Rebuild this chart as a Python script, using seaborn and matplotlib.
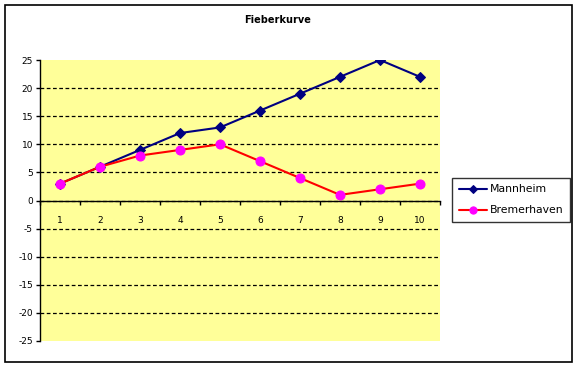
import pandas as pd
import matplotlib
matplotlib.use('Agg')
import matplotlib.pyplot as plt
import seaborn as sns
from matplotlib.patches import Rectangle

tage = [1, 2, 3, 4, 5, 6, 7, 8, 9, 10]
mannheim = [3, 6, 9, 12, 13, 16, 19, 22, 25, 22]
bremerhaven = [3, 6, 8, 9, 10, 7, 4, 1, 2, 3]
y_ticks = [-25, -20, -15, -10, -5, 0, 5, 10, 15, 20, 25]

sns.set_style('white')
plt.rcParams['font.family'] = ['DejaVu Sans']
plt.rcParams['axes.unicode_minus'] = False
plt.rcParams['text.color'] = 'black'

data = pd.DataFrame({'Tag': tage, 'Mannheim': mannheim, 'Bremerhaven': bremerhaven})

fig = plt.figure(figsize=(5.78, 3.66), dpi=100)
fig.patch.set_facecolor('white')
fig.patches.append(Rectangle((5 / 578, 4 / 366), 567 / 578, 357 / 366, transform=fig.transFigure,
                             fill=False, edgecolor='black', linewidth=1.2))

ax = fig.add_axes([40 / 578, 25 / 366, 400 / 578, 281 / 366])
ax.set_facecolor('#FFFF99')

sns.lineplot(data=data, x='Tag', y='Mannheim', ax=ax, color='#000080', linewidth=1.5,
             marker='D', markersize=5.5, markerfacecolor='#000080', markeredgecolor='#000080',
             label='Mannheim')
sns.lineplot(data=data, x='Tag', y='Bremerhaven', ax=ax, color='#FF0000', linewidth=1.5,
             marker='o', markersize=6.5, markerfacecolor='#FF00FF', markeredgecolor='#FF00FF',
             label='Bremerhaven')

ax.set_xlim(0.5, 10.5)
ax.set_ylim(-25, 25)
ax.set_xlabel('')
ax.set_ylabel('')

ax.set_yticks(y_ticks)
ax.tick_params(axis='y', left=True, direction='out', length=3, width=1, color='black',
               labelcolor='black', labelsize=6.5, pad=2)

ax.set_xticks(tage)
ax.set_xticks([t + 0.5 for t in [0] + tage], minor=True)
ax.tick_params(axis='x', which='major', bottom=True, length=0, labelcolor='black',
               labelsize=6.5, pad=11)
ax.tick_params(axis='x', which='minor', bottom=True, direction='out', length=3, width=1,
               color='black')

for s in ['top', 'right']:
    ax.spines[s].set_visible(False)
ax.spines['left'].set_color('black')
ax.spines['left'].set_linewidth(1)
ax.spines['bottom'].set_position(('data', 0))
ax.spines['bottom'].set_color('black')
ax.spines['bottom'].set_linewidth(1)

ax.yaxis.grid(True, color='black', linestyle=(0, (3, 2)), linewidth=0.9)
ax.xaxis.grid(False)
gl = ax.get_ygridlines()
gl[0].set_visible(False)
gl[-1].set_visible(False)
ax.set_axisbelow(True)

fig.suptitle('Fieberkurve', x=278 / 578, y=1 - 20 / 366, va='center', fontsize=7,
             fontweight='bold', color='black')

ax.get_legend().remove()
h, l = ax.get_legend_handles_labels()
leg = fig.legend(h, l, loc='upper left', bbox_to_anchor=(452 / 578, 1 - 178 / 366),
                 fancybox=False, frameon=True, edgecolor='black', fontsize=7.8,
                 handlelength=2.6, borderpad=0.6, labelspacing=1.0, handletextpad=0.3,
                 borderaxespad=0, markerscale=0.8)
leg.get_frame().set_linewidth(1)
for t in leg.get_texts():
    t.set_color('black')

fig.savefig('out.png', dpi=100)
